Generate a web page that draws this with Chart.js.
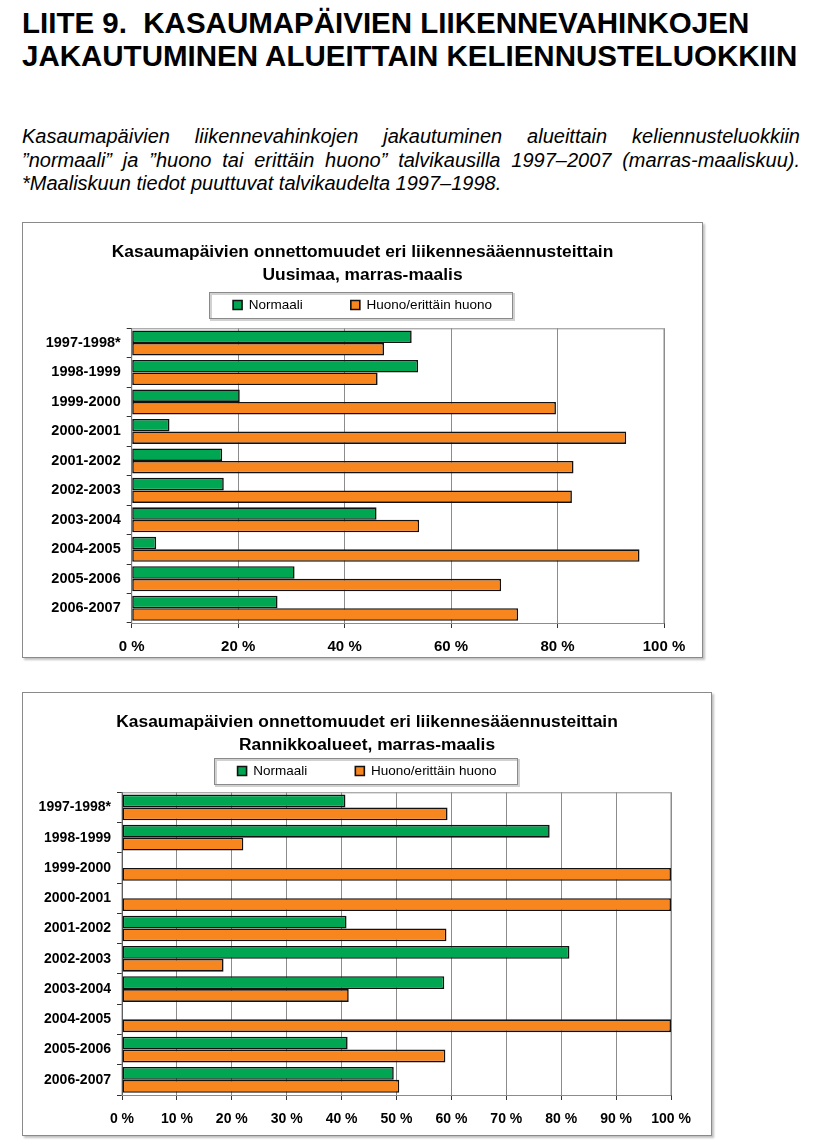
<!DOCTYPE html>
<html lang="fi">
<head>
<meta charset="utf-8">
<title>Liite 9</title>
<script src="https://cdn.jsdelivr.net/npm/chart.js@4.4.0/dist/chart.umd.min.js"></script>
<style>
    body {
        margin: 0;
        width: 822px;
        height: 1143px;
        position: relative;
        background: #fff;
        color: #000;
        font-family: "Liberation Sans", Arial, sans-serif;
        overflow: hidden;
    }
    h1 {
        position: absolute;
        left: 22px;
        top: 6px;
        margin: 0;
        font-size: 29.5px;
        line-height: 33px;
        font-weight: bold;
        white-space: nowrap;
    }
    .intro {
        position: absolute;
        left: 22px;
        top: 125px;
        width: 778px;
        margin: 0;
        font-style: italic;
        font-size: 20px;
        line-height: 23.5px;
    }
    .intro span { display: block; white-space: nowrap; }
    .intro span.full { text-align: justify; text-align-last: justify; white-space: normal; }
    .box {
        position: absolute;
        left: 22px;
        border: 1px solid #8a8a8a;
        box-shadow: 2px 2px 2px rgba(0, 0, 0, 0.25);
        background: #fff;
    }
    .box canvas { display: block; }
</style>
</head>
<body>

<h1>LIITE 9.&nbsp; KASAUMAPÄIVIEN LIIKENNEVAHINKOJEN<br>JAKAUTUMINEN ALUEITTAIN KELIENNUSTELUOKKIIN</h1>

<p class="intro">
    <span class="full">Kasaumapäivien liikennevahinkojen jakautuminen alueittain keliennusteluokkiin</span>
    <span class="full">”normaali” ja ”huono tai erittäin huono” talvikausilla 1997–2007 (marras-maaliskuu).</span>
    <span>*Maaliskuun tiedot puuttuvat talvikaudelta 1997–1998.</span>
</p>

<div class="box" style="top:222px;">
    <canvas id="chartUusimaa" width="679" height="434"></canvas>
</div>
<div class="box" style="top:692px;">
    <canvas id="chartRannikko" width="688" height="442"></canvas>
</div>

<script>
// --- Data ---
const seasons = ['1997-1998*', '1998-1999', '1999-2000', '2000-2001', '2001-2002',
                 '2002-2003', '2003-2004', '2004-2005', '2005-2006', '2006-2007'];
const seriesNames = ['Normaali', 'Huono/erittäin huono'];
const titleLine1 = 'Kasaumapäivien onnettomuudet eri liikennesääennusteittain';

// Uusimaa (%)
const uusimaaNormaali = [52.6, 53.8, 20.3, 7.1, 17.0, 17.3, 46.0, 4.6, 30.6, 27.4];
const uusimaaHuono    = [47.4, 46.2, 79.7, 92.9, 83.0, 82.7, 54.0, 95.4, 69.4, 72.6];

// Rannikkoalueet (%)
const rannikkoNormaali = [40.7, 77.9, 0, 0, 40.9, 81.5, 58.7, 0, 41.1, 49.5];
const rannikkoHuono    = [59.3, 22.1, 100, 100, 59.1, 18.5, 41.3, 100, 58.9, 50.5];

// --- Styles ---
const GREEN = '#00a651';
const ORANGE = '#f7861f';
const FONT = '"Liberation Sans", Arial, sans-serif';

// Gray frame round the plot area (Excel style)
const plotFrame = {
    id: 'plotFrame',
    beforeDatasetsDraw(chart) {
        const a = chart.chartArea;
        const ctx = chart.ctx;
        ctx.save();
        ctx.strokeStyle = '#8c8c8c';
        ctx.lineWidth = 1;
        ctx.strokeRect(a.left, a.top + 0.5, a.right - a.left, a.bottom - a.top);
        ctx.restore();
    }
};

// Box round the legend items
const legendFrame = {
    id: 'legendFrame',
    afterDraw(chart, args, opts) {
        const boxes = chart.legend && chart.legend.legendHitBoxes;
        if (!boxes || !boxes.length) return;
        const left = Math.min(...boxes.map(b => b.left)) - opts.padLeft;
        const right = Math.max(...boxes.map(b => b.left + b.width)) + opts.padRight;
        const top = boxes[0].top - opts.padY;
        const bottom = boxes[0].top + boxes[0].height + opts.padY;
        const ctx = chart.ctx;
        ctx.save();
        ctx.strokeStyle = 'rgba(0,0,0,0.18)';
        ctx.lineWidth = 2;
        ctx.strokeRect(Math.round(left) + 2, Math.round(top) + 2, Math.round(right - left), Math.round(bottom - top));
        ctx.strokeStyle = '#8a8a8a';
        ctx.lineWidth = 1;
        ctx.strokeRect(Math.round(left) + 0.5, Math.round(top) + 0.5, Math.round(right - left), Math.round(bottom - top));
        ctx.restore();
    }
};

function makeChart(id, region, normaali, huono, cfg) {
    const ctx = document.getElementById(id).getContext('2d');
    return new Chart(ctx, {
        type: 'bar',
        data: {
            labels: seasons,
            datasets: [
                {
                    label: seriesNames[0],
                    data: normaali,
                    backgroundColor: GREEN,
                    borderColor: '#111',
                    borderWidth: 1.6,
                    borderSkipped: false
                },
                {
                    label: seriesNames[1],
                    data: huono,
                    backgroundColor: ORANGE,
                    borderColor: '#111',
                    borderWidth: 1.6,
                    borderSkipped: false
                }
            ]
        },
        options: {
            indexAxis: 'y',
            responsive: false,
            animation: false,
            devicePixelRatio: 1,
            categoryPercentage: 0.85,
            barPercentage: 1.0,
            layout: { padding: 0 },
            plugins: {
                title: {
                    display: true,
                    text: [titleLine1, region],
                    color: '#000',
                    font: { family: FONT, size: 17.4, weight: 'bold', lineHeight: 1.33 },
                    padding: { top: 17.5, bottom: cfg.titleBottom }
                },
                // empty spacer between the legend and the plot
                subtitle: {
                    display: true,
                    text: '',
                    weight: 500,
                    font: { size: 1, lineHeight: 1 },
                    padding: { top: cfg.spacer, bottom: 0 }
                },
                legend: {
                    position: 'top',
                    labels: {
                        color: '#000',
                        boxWidth: 9,
                        boxHeight: 9,
                        padding: 48,
                        font: { family: FONT, size: 13.5 }
                    }
                },
                legendFrame: { padLeft: 24, padRight: 20, padY: 6 },
                tooltip: { enabled: false }
            },
            scales: {
                x: {
                    min: 0,
                    max: 100,
                    ticks: {
                        stepSize: cfg.step,
                        color: '#000',
                        padding: cfg.tickPad,
                        font: { family: FONT, size: cfg.tickSize, weight: 'bold' },
                        callback: v => v + ' %'
                    },
                    grid: { color: '#8c8c8c', tickColor: '#333', tickLength: 5 },
                    border: { color: '#333', width: 1 },
                    afterFit: s => { s.height = cfg.xHeight; }
                },
                y: {
                    ticks: {
                        color: '#000',
                        padding: 6,
                        font: { family: FONT, size: cfg.labelSize, weight: 'bold' }
                    },
                    grid: { drawOnChartArea: false, offset: true, tickColor: '#333', tickLength: 5 },
                    border: { color: '#333', width: 1 },
                    afterFit: s => { s.width = cfg.yWidth; }
                },
                // empty right-hand margin, keeps the plot where the reference has it
                yRight: {
                    type: 'category',
                    position: 'right',
                    ticks: { display: false },
                    grid: { display: false },
                    border: { display: false },
                    afterFit: s => { s.width = cfg.rightWidth; }
                }
            }
        },
        plugins: [plotFrame, legendFrame]
    });
}

// --- Charts ---
makeChart('chartUusimaa', 'Uusimaa, marras-maalis', uusimaaNormaali, uusimaaHuono, {
    step: 20, yWidth: 108.7, rightWidth: 38, xHeight: 34, tickPad: 10,
    titleBottom: -36.5, spacer: 5.5, tickSize: 15, labelSize: 14.5
});

makeChart('chartRannikko', 'Rannikkoalueet, marras-maalis', rannikkoNormaali, rannikkoHuono, {
    step: 10, yWidth: 99, rightWidth: 40, xHeight: 40, tickPad: 11,
    titleBottom: -40.5, spacer: 3.5, tickSize: 14, labelSize: 14
});
</script>
</body>
</html>
